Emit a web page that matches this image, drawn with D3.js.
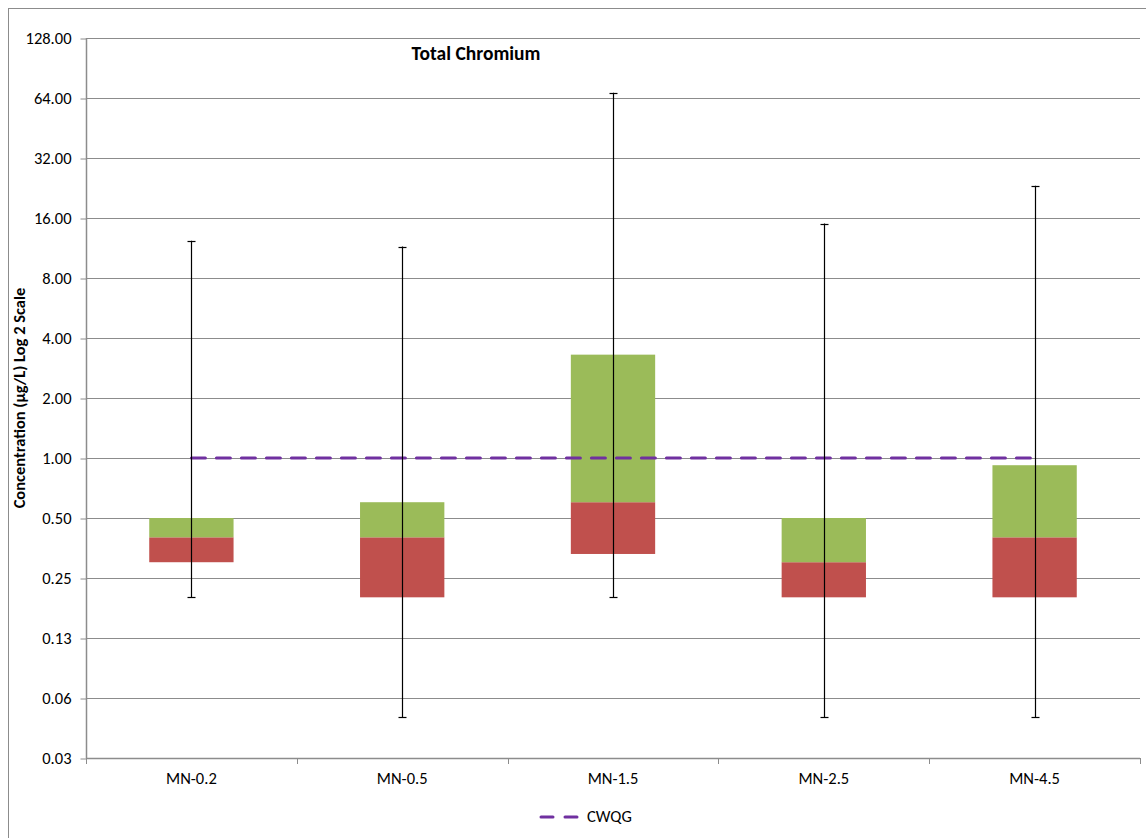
<!DOCTYPE html>
<html>
<head>
<meta charset="utf-8">
<script src="https://cdn.jsdelivr.net/npm/d3@7"></script>
<style>
  body { margin: 0; background: #fff; }
  svg { display: block; font-family: Calibri, "Carlito", "Liberation Sans", "Open Sans", sans-serif; }
</style>
</head>
<body>
<svg id="chart" width="1146" height="838"></svg>
<script>
const categories = ["MN-0.2", "MN-0.5", "MN-1.5", "MN-2.5", "MN-4.5"];
const minValues    = [0.2, 0.05, 0.2, 0.05, 0.05];
const q1Values     = [0.3, 0.2, 0.33, 0.2, 0.2];
const medianValues = [0.4, 0.4, 0.6, 0.3, 0.4];
const q3Values     = [0.5, 0.6, 3.3, 0.5, 0.92];
const maxValues    = [12.3, 11.5, 68, 15, 23.2];
const cwqgValue = 1.0;
const yTickValues = [0.03125, 0.0625, 0.125, 0.25, 0.5, 1, 2, 4, 8, 16, 32, 64, 128];
const yTickLabels = ["0.03", "0.06", "0.13", "0.25", "0.50", "1.00", "2.00", "4.00", "8.00", "16.00", "32.00", "64.00", "128.00"];

const svg = d3.select("#chart");
const W = 1146, H = 838;
const plot = { left: 86, right: 1140, top: 38, bottom: 758 };

// outer chart border
svg.append("rect").attr("x", 8.5).attr("y", 8.5).attr("width", W).attr("height", H)
  .attr("fill", "none").attr("stroke", "#8c8c8c").attr("stroke-width", 1);

const x = d3.scaleBand().domain(categories).range([plot.left, plot.right]).paddingInner(0).paddingOuter(0);
const y = d3.scaleLog().base(2).domain([0.03125, 128]).range([plot.bottom, plot.top]);

// gridlines
svg.append("g").selectAll("line").data(yTickValues.slice(1)).join("line")
  .attr("x1", plot.left).attr("x2", plot.right)
  .attr("y1", d => Math.round(y(d)) + 0.5).attr("y2", d => Math.round(y(d)) + 0.5)
  .attr("stroke", "#8c8c8c").attr("stroke-width", 1);

// y axis
const yAxis = d3.axisLeft(y).tickValues(yTickValues)
  .tickFormat((d, i) => yTickLabels[i]).tickSize(6).tickPadding(9);
const gy = svg.append("g").attr("transform", `translate(${plot.left + 0.5},0.5)`).call(yAxis);
gy.select(".domain").attr("stroke", "#8c8c8c").attr("stroke-width", 1.5).attr("d", `M0,${plot.top - 0.5}V${plot.bottom}`);
gy.selectAll(".tick line").attr("stroke", "#8c8c8c");
gy.selectAll(".tick text").attr("font-size", 16.5).attr("fill", "#000")
  .attr("font-family", "Calibri, Carlito, 'Liberation Sans', sans-serif");

// x axis
const xAxis = d3.axisBottom(x).tickSize(0).tickPadding(14);
const gx = svg.append("g").attr("transform", `translate(0,${plot.bottom + 0.5})`).call(xAxis);
gx.select(".domain").attr("stroke", "#8c8c8c").attr("stroke-width", 1.5).attr("d", `M${plot.left},0H${plot.right}`);
gx.selectAll(".tick text").attr("font-size", 16.5).attr("fill", "#000")
  .attr("font-family", "Calibri, Carlito, 'Liberation Sans', sans-serif");
// category boundary tick marks
svg.append("g").selectAll("line").data(categories.map((c) => x(c)).concat([plot.right])).join("line")
  .attr("x1", d => Math.round(d) + 0.5).attr("x2", d => Math.round(d) + 0.5)
  .attr("y1", plot.bottom).attr("y2", plot.bottom + 6)
  .attr("stroke", "#8c8c8c").attr("stroke-width", 1);

const barW = x.bandwidth() * 0.4;
const data = categories.map((c, i) => ({
  c, min: minValues[i], q1: q1Values[i], med: medianValues[i], q3: q3Values[i], max: maxValues[i]
}));

// red (q1 - median)
svg.append("g").selectAll("rect").data(data).join("rect")
  .attr("x", d => x(d.c) + x.bandwidth() / 2 - barW / 2)
  .attr("width", barW)
  .attr("y", d => y(d.med))
  .attr("height", d => y(d.q1) - y(d.med))
  .attr("fill", "#C0504D");

// green (median - q3)
svg.append("g").selectAll("rect").data(data).join("rect")
  .attr("x", d => x(d.c) + x.bandwidth() / 2 - barW / 2)
  .attr("width", barW)
  .attr("y", d => y(d.q3))
  .attr("height", d => y(d.med) - y(d.q3))
  .attr("fill", "#9BBB59");

// CWQG line
const cx = c => x(c) + x.bandwidth() / 2;
svg.append("line")
  .attr("x1", cx(categories[0])).attr("x2", cx(categories[categories.length - 1]))
  .attr("y1", y(cwqgValue)).attr("y2", y(cwqgValue))
  .attr("stroke", "#7030A0").attr("stroke-width", 3)
  .attr("stroke-dasharray", "14,11").attr("stroke-linecap", "round");

// whiskers
const wg = svg.append("g");
wg.selectAll("line.w").data(data).join("line").attr("class", "w")
  .attr("x1", d => Math.round(cx(d.c)) + 0.5).attr("x2", d => Math.round(cx(d.c)) + 0.5)
  .attr("y1", d => y(d.max)).attr("y2", d => y(d.min))
  .attr("stroke", "#000").attr("stroke-width", 1.2);
["min", "max"].forEach(k => {
  wg.selectAll("line." + k).data(data).join("line").attr("class", k)
    .attr("x1", d => Math.round(cx(d.c)) + 0.5 - 4).attr("x2", d => Math.round(cx(d.c)) + 0.5 + 4)
    .attr("y1", d => Math.round(y(d[k])) + 0.5).attr("y2", d => Math.round(y(d[k])) + 0.5)
    .attr("stroke", "#000").attr("stroke-width", 1.2);
});

// title
svg.append("text").attr("x", 476).attr("y", 60).attr("text-anchor", "middle")
  .attr("font-size", 19.5).attr("font-weight", "bold").text("Total Chromium");

// y label
svg.append("text").attr("transform", "translate(25,398) rotate(-90)")
  .attr("text-anchor", "middle").attr("font-size", 16.5).attr("font-weight", "bold")
  .text("Concentration (µg/L) Log 2 Scale");

// legend
svg.append("line").attr("x1", 541).attr("x2", 578).attr("y1", 817).attr("y2", 817)
  .attr("stroke", "#7030A0").attr("stroke-width", 3)
  .attr("stroke-dasharray", "12,12").attr("stroke-linecap", "round");
svg.append("text").attr("x", 587).attr("y", 822).attr("font-size", 16.5).text("CWQG");
</script>
</body>
</html>
